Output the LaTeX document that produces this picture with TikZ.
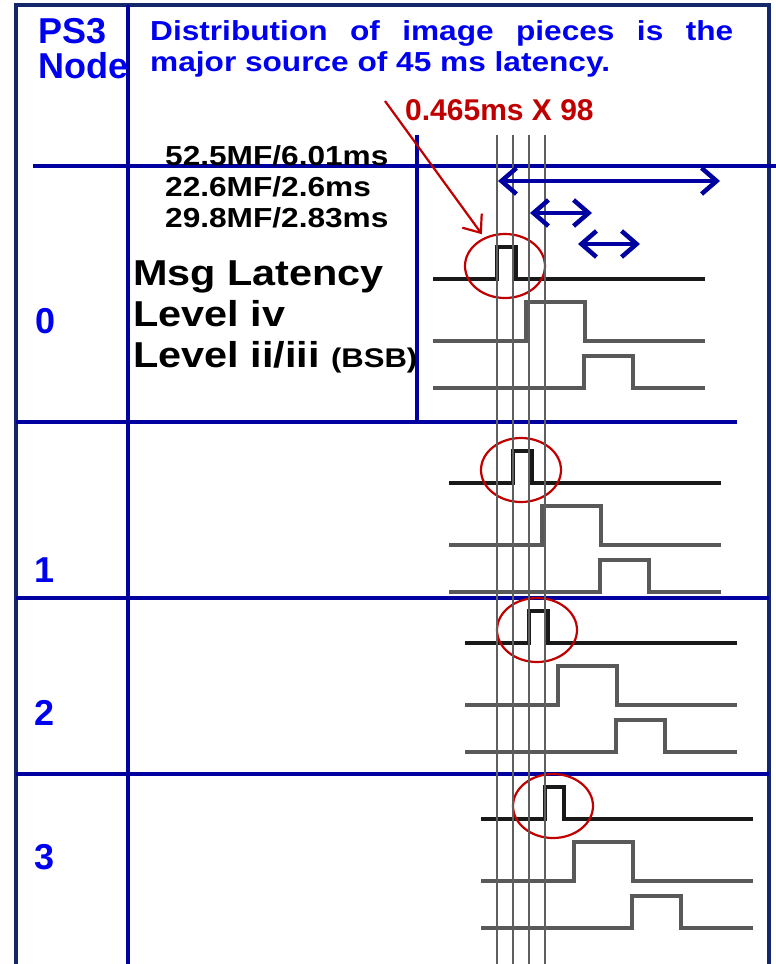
\documentclass[tikz,border=0pt]{standalone}
\usepackage{fontspec}
\setmainfont{Liberation Sans}
\newfontfamily\widesf[FakeStretch=1.15]{Liberation Sans}
\usepackage{xcolor}
\usetikzlibrary{arrows.meta, positioning, shapes.geometric}
\definecolor{pnavy}{HTML}{14276A}
\definecolor{pline}{HTML}{0000A0}
\definecolor{ptext}{HTML}{0000F0}
\definecolor{pred}{HTML}{C00000}
\definecolor{pgrey}{HTML}{5F5F5F}

\begin{document}
\begin{tikzpicture}[x=1pt, y=-1pt,
  gridln/.style={pline, line width=3.5pt},
  rowlbl/.style={font=\fontsize{36}{36}\selectfont\bfseries, text=ptext, inner sep=0pt},
  pulsering/.style={ellipse, draw=pred, line width=2.2pt, minimum width=80pt, minimum height=64pt, inner sep=0pt},
  lagspan/.style={pline, line width=4.5pt, {Straight Barb[length=15pt,width=26pt]}-{Straight Barb[length=15pt,width=26pt]}},
  wave/.style={line width=3.5pt, line join=miter}]
\useasboundingbox (0,0) rectangle (776,964);
\fill[white] (0,0) rectangle (776,964);
\draw[pnavy, line width=4.5pt] (16,964) -- (16,5) -- (769,5) -- (769,964);
\draw[gridln] (128,5) -- (128,964);
\draw[gridln] (33,166) -- (776,166);
\draw[gridln] (417,135) -- (417,422);
\draw[gridln] (16,422) -- (737,422);
\draw[gridln] (16,598) -- (769,598);
\draw[gridln] (16,774) -- (769,774);

\foreach \n/\ox/\oy in {0/433/279, 1/449/483, 2/465/643, 3/481/819} {
  \begin{scope}[shift={(\ox,\oy)}]
  \draw[wave, black!90] (0,0) -- (64,0) -- (64,-32) -- (83,-32) -- (83,0) -- (272,0);
  \draw[wave, black!65] (0,62) -- (93,62) -- (93,23) -- (152,23) -- (152,62) -- (272,62);
  \draw[wave, black!65] (0,109) -- (151,109) -- (151,77) -- (200,77) -- (200,109) -- (272,109);
  \node[pulsering] (ring\n) at (72,-13) {};
  \end{scope}
}
\foreach \gx in {497,513,529,545}
  \draw[pgrey, line width=2pt] (\gx,135) -- (\gx,964);

\coordinate (lagA1) at (498,181);
\coordinate (lagB1) at (720,181);
\coordinate (lagA2) at (530,213);
\coordinate (lagB2) at (592,213);
\coordinate (lagA3) at (578,244);
\coordinate (lagB3) at (640,244);
\draw[lagspan] (lagA1) -- (lagB1);
\draw[lagspan] (lagA2) -- (lagB2);
\draw[lagspan] (lagA3) -- (lagB3);

\coordinate (redtail) at (385,101);
\draw[pred, line width=2.2pt, -{Straight Barb[length=15pt,width=24pt]}, shorten >=4pt] (redtail) -- (ring0);

\node[font=\fontsize{36}{35}\selectfont\bfseries, text=ptext, align=left, inner sep=0pt, anchor=north west]
  (nodehdr) at (38,18) {PS3\\Node};
\node[font=\widesf\fontsize{27.5}{31}\selectfont\bfseries, text=ptext, align=justify, text width=583pt, inner sep=0pt, anchor=north west]
  (titletxt) at (150,20) {\tolerance=9999 Distribution of image pieces is the \mbox{major} source of 45 ms latency.};
\node[font=\fontsize{30}{30}\selectfont\bfseries, text=pred, inner sep=0pt, anchor=base west]
  (piecelbl) at (405,120) {0.465ms X 98};
\node[font=\widesf\fontsize{27.5}{31}\selectfont\bfseries, align=left, inner sep=0pt, anchor=north west]
  (mfvals) at (165,145) {52.5MF/6.01ms\\22.6MF/2.6ms\\29.8MF/2.83ms};
\node[font=\widesf\fontsize{36}{41}\selectfont\bfseries, align=left, inner sep=0pt, anchor=north west]
  (legend) at (133,261) {Msg Latency\\Level iv\\Level ii/iii {\fontsize{27}{27}\selectfont(BSB)}};

\node[rowlbl] (row0) at (46,321) {0};
\node[rowlbl] (row1) at (45,570) {1};
\node[rowlbl] (row2) at (45,713) {2};
\node[rowlbl] (row3) at (45,857) {3};
\end{tikzpicture}
\end{document}
